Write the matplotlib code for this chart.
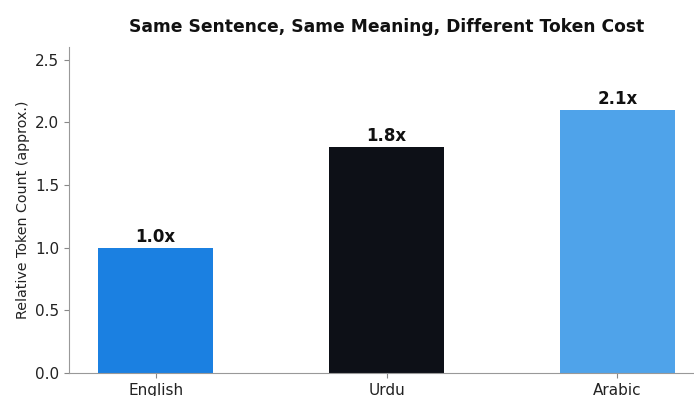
import matplotlib
matplotlib.use("Agg")
import matplotlib.pyplot as plt

languages = ["English", "Urdu", "Arabic"]
token_ratio = [1.0, 1.8, 2.1]
bar_colors = ["#1b80e1", "#0d1017", "#4fa3ea"]
value_labels = ["1.0x", "1.8x", "2.1x"]

fig = plt.figure(figsize=(6.94, 3.96), dpi=100)
ax = fig.add_axes([69 / 694, 23 / 396, 635 / 694, 326 / 396])

x = range(len(languages))
bars = ax.bar(x, token_ratio, width=0.5, color=bar_colors)

for bar, lab in zip(bars, value_labels):
    ax.text(bar.get_x() + bar.get_width() / 2, bar.get_height() + 0.015, lab,
            ha="center", va="bottom", fontsize=12, fontweight="bold", color="#111111")

ax.set_xticks(list(x))
ax.set_xticklabels(languages, fontsize=11, color="#222222")
ax.set_ylim(0, 2.6)
ax.set_yticks([0.0, 0.5, 1.0, 1.5, 2.0, 2.5])
ax.tick_params(axis="y", labelsize=11, colors="#222222")
ax.tick_params(axis="both", color="#888888")
ax.set_ylabel("Relative Token Count (approx.)", fontsize=10.3, color="#222222")
ax.set_title("Same Sentence, Same Meaning, Different Token Cost",
             fontsize=12.3, fontweight="bold", color="#111111", pad=11)

for side in ["top", "right"]:
    ax.spines[side].set_visible(False)
for side in ["left", "bottom"]:
    ax.spines[side].set_color("#999999")

fig.savefig("out.png", dpi=100)
